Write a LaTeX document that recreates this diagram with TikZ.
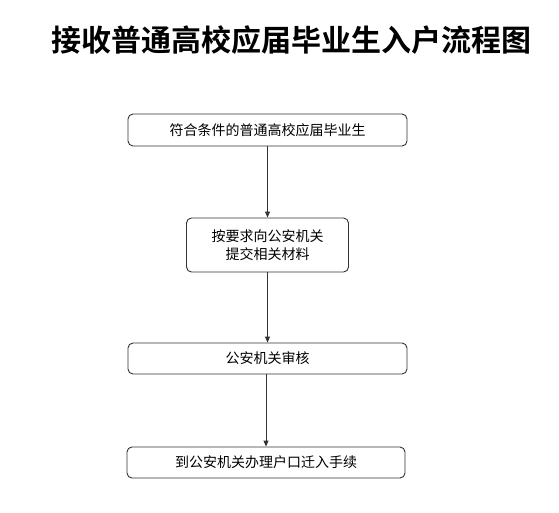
\documentclass[tikz,border=0pt]{standalone}
\usepackage{fontspec}
\newfontfamily\cjk{Noto Sans CJK SC}
\newfontfamily\cjkbold{Noto Sans CJK SC Bold}
\usetikzlibrary{arrows.meta}
\begin{document}
\begin{tikzpicture}[x=1pt,y=-1pt,
  flowbox/.style={draw=black!80,line width=0.9pt,rounded corners=5pt,fill=white,
    inner sep=0pt,font=\cjk\fontsize{14}{18}\selectfont,align=center,text=black},
  flowarrow/.style={draw=black!80,line width=0.9pt,-{Triangle[length=6pt,width=5pt]}}]
\useasboundingbox (0,0) rectangle (559,512);
\node[font=\cjkbold\fontsize{30}{36}\selectfont] (title) at (291.5,40) {接收普通高校应届毕业生入户流程图};
\node[flowbox,minimum width=279pt,minimum height=32pt] (b1) at (267.5,130) {符合条件的普通高校应届毕业生};
\node[flowbox,minimum width=162pt,minimum height=54pt] (b2) at (267.5,245) {按要求向公安机关\\提交相关材料};
\node[flowbox,minimum width=279pt,minimum height=31pt] (b3) at (267.5,358.5) {公安机关审核};
\node[flowbox,minimum width=278pt,minimum height=31pt] (b4) at (266,462.5) {到公安机关办理户口迁入手续};
\draw[flowarrow] (b1.south) -- (b2.north);
\draw[flowarrow] (b2.south) -- (b3.north);
\draw[flowarrow] (b3.south -| b4.north) -- (b4.north);
\end{tikzpicture}
\end{document}
